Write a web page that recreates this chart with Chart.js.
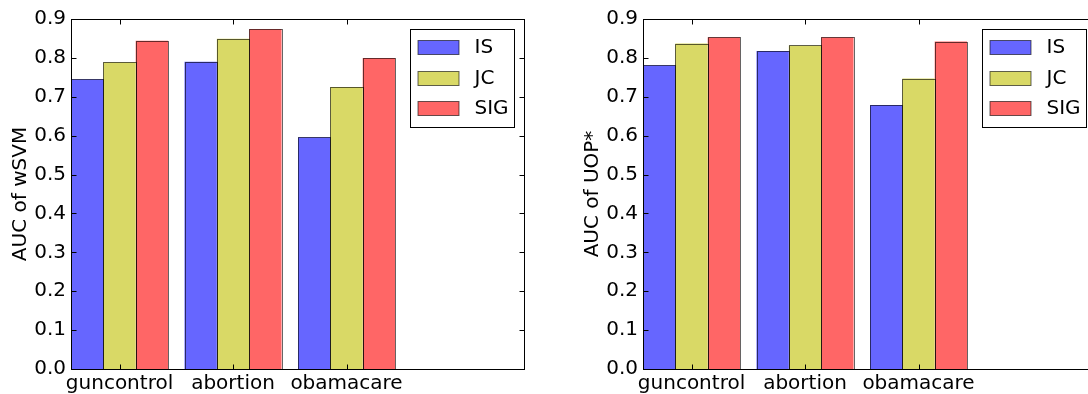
<!DOCTYPE html>
<html>
<head>
<meta charset="utf-8">
<script src="https://cdn.jsdelivr.net/npm/chart.js@4/dist/chart.umd.min.js"></script>
<style>
  html, body { margin: 0; padding: 0; background: #fff; overflow: hidden; width: 1088px; height: 394px; }
  .panel { position: absolute; top: 0; width: 541px; height: 394px; }
  #p1 { left: 0; }
  #p2 { left: 572px; }
</style>
</head>
<body>
<div class="panel" id="p1"><canvas id="c1" width="541" height="394"></canvas></div>
<div class="panel" id="p2"><canvas id="c2" width="541" height="394"></canvas></div>
<script>
// Topics on the x axis and the three methods compared
const topics = ['guncontrol', 'abortion', 'obamacare'];
const methods = ['IS', 'JC', 'SIG'];

// AUC of wSVM per topic
const wsvmIS  = [0.745, 0.790, 0.596];
const wsvmJC  = [0.789, 0.849, 0.725];
const wsvmSIG = [0.844, 0.874, 0.800];

// AUC of UOP* per topic
const uopIS  = [0.781, 0.818, 0.679];
const uopJC  = [0.837, 0.832, 0.747];
const uopSIG = [0.853, 0.853, 0.842];

// y axis tick values
const yTicks = [0.0, 0.1, 0.2, 0.3, 0.4, 0.5, 0.6, 0.7, 0.8, 0.9];

const fills   = ['#6666ff', '#d9d966', '#ff6666'];
const edge    = 'rgba(0,0,0,0.6)';
const barFrac = 0.285;               // width of one bar, in x-axis units
const groupMid = 1.5 * barFrac;      // centre of each three-bar group
const font = { family: '"DejaVu Sans", sans-serif', size: 20 };

// Bar outlines, frame, inward tick marks and boxed legend, drawn on top of the bars
const framePlugin = {
  id: 'frame',
  afterDatasetsDraw(chart) {
    const { ctx, chartArea: a, scales: { x, y } } = chart;
    ctx.save();
    ctx.lineWidth = 1;

    // crisp 1px outline around every bar element
    ctx.strokeStyle = edge;
    chart.data.datasets.forEach((ds, k) => {
      chart.getDatasetMeta(k).data.forEach(bar => {
        const { x: cx, y: top, base, width } = bar.getProps(['x', 'y', 'base', 'width'], true);
        const x0 = Math.round(cx - width / 2) + 0.5, x1 = Math.round(cx + width / 2) + 0.5;
        const y0 = Math.round(top) + 0.5, y1 = Math.round(base) + 0.5;
        ctx.strokeRect(x0, y0, x1 - x0, y1 - y0);
      });
    });

    const L = Math.round(a.left) + 0.5, R = Math.round(a.right) - 0.5;
    const T = Math.round(a.top) + 0.5, B = Math.round(a.bottom) + 0.5;
    ctx.strokeStyle = '#000';
    ctx.beginPath();
    y.ticks.forEach(t => {
      const py = Math.round(y.getPixelForValue(t.value)) + 0.5;
      ctx.moveTo(L, py); ctx.lineTo(L + 5, py);
      ctx.moveTo(R, py); ctx.lineTo(R - 5, py);
    });
    x.ticks.forEach(t => {
      const px = Math.round(x.getPixelForValue(t.value)) + 0.5;
      ctx.moveTo(px, B); ctx.lineTo(px, B - 5);
      ctx.moveTo(px, T); ctx.lineTo(px, T + 5);
    });
    ctx.stroke();
    ctx.strokeRect(L, T, R - L, B - T);

    // legend box in the upper right corner
    const bw = 104, bh = 98;
    const bx = Math.round(a.right - 11 - bw) + 0.5, by = Math.round(a.top + 10) + 0.5;
    ctx.fillStyle = '#fff';
    ctx.fillRect(bx, by, bw, bh);
    ctx.strokeStyle = '#000';
    ctx.strokeRect(bx, by, bw, bh);
    ctx.font = font.size + 'px ' + font.family;
    ctx.textBaseline = 'middle';
    ctx.textAlign = 'left';
    chart.data.datasets.forEach((ds, i) => {
      const cy = by + 17.5 + i * 30.5;
      const sx = bx + 7.5, sy = Math.round(cy - 7) + 0.5;
      ctx.fillStyle = ds.backgroundColor;
      ctx.fillRect(sx, sy, 41, 14);
      ctx.strokeStyle = edge;
      ctx.strokeRect(sx, sy, 41, 14);
      ctx.fillStyle = '#000';
      ctx.fillText(ds.label, bx + 64, cy + 1);
    });
    ctx.restore();
  }
};

function makeChart(id, title, series) {
  const datasets = methods.map((m, k) => ({
    label: m,
    data: series[k].map((v, i) => ({ x: i + groupMid, y: v })),
    backgroundColor: fills[k],
    borderWidth: 0,
    categoryPercentage: 3 * barFrac,
    barPercentage: 1.0
  }));
  return new Chart(document.getElementById(id), {
    type: 'bar',
    data: { datasets },
    plugins: [framePlugin],
    options: {
      responsive: false,
      animation: false,
      devicePixelRatio: 1,
      layout: { padding: { top: 19, right: 16, left: 0, bottom: 0 } },
      plugins: { legend: { display: false }, tooltip: { enabled: false } },
      scales: {
        x: {
          type: 'linear',
          min: 0,
          max: 4,
          offset: false,
          grid: { display: false, drawTicks: false, offset: false },
          border: { display: false },
          afterBuildTicks: s => { s.ticks = topics.map((_, i) => ({ value: i + groupMid })); },
          ticks: {
            callback: (v, i) => topics[i],
            font, color: '#000', padding: 3,
            maxRotation: 0, autoSkip: false
          },
          afterFit: s => { s.height = 25; }
        },
        y: {
          type: 'linear',
          min: 0,
          max: 0.9,
          grid: { display: false, drawTicks: false },
          border: { display: false },
          afterBuildTicks: s => { s.ticks = yTicks.map(v => ({ value: v })); },
          ticks: { callback: v => Number(v).toFixed(1), font, color: '#000', padding: 5, autoSkip: false },
          title: { display: true, text: title, font, color: '#000', padding: { top: 9, bottom: 0 } },
          afterFit: s => { s.width = 71; }
        }
      }
    }
  });
}

makeChart('c1', 'AUC of wSVM', [wsvmIS, wsvmJC, wsvmSIG]);
makeChart('c2', 'AUC of UOP*', [uopIS, uopJC, uopSIG]);
</script>
</body>
</html>
